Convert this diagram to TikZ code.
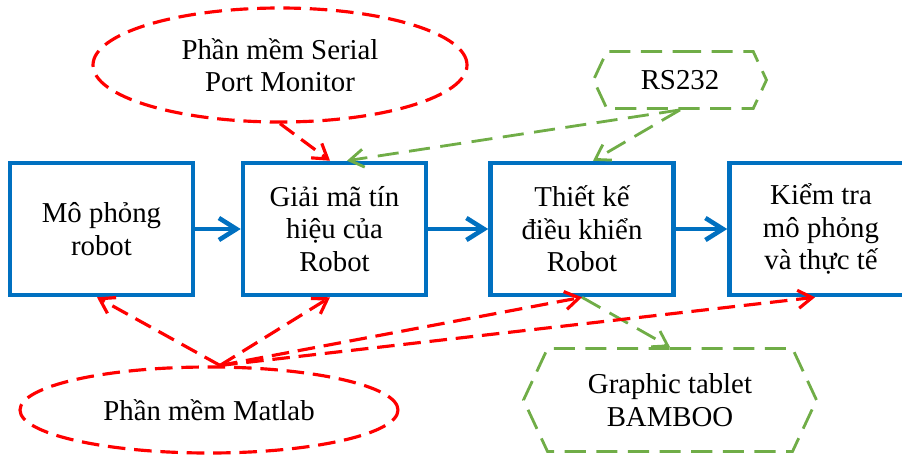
\documentclass[tikz,border=0pt]{standalone}
\usepackage{fontspec}
\setmainfont{Liberation Serif}
\usetikzlibrary{shapes.geometric,shapes.symbols,arrows.meta,calc}
\definecolor{boxblue}{RGB}{0,112,192}
\definecolor{hwgreen}{RGB}{112,173,71}

\begin{document}
\begin{tikzpicture}[every node/.style={font=\fontsize{16.4}{18.5}\selectfont, align=center, inner sep=0pt},
  box/.style={draw=boxblue, line width=2.6pt, minimum width=3.66cm, minimum height=2.64cm},
  soft/.style={ellipse, draw=red, line width=1.8pt, dash pattern=on 10pt off 5pt},
  hw/.style={signal, signal to=west and east, signal pointer angle=130, draw=hwgreen, line width=1.6pt, dash pattern=on 12pt off 6pt},
  flow/.style={boxblue, line width=2.6pt, -{Straight Barb[length=3.5mm,width=4.4mm]}},
  redlink/.style={red, line width=1.8pt, dash pattern=on 10pt off 5pt, -{Straight Barb[length=2.8mm,width=3.6mm]}},
  greenlink/.style={hwgreen, line width=1.6pt, dash pattern=on 12pt off 6pt, -{Straight Barb[length=2.8mm,width=3.6mm]}}]
\useasboundingbox (0,0) rectangle (18.04,-9.08);

\node[box] (mophong) at (2.03,-4.58) {Mô phỏng\\robot};
\node[box] (giaima) at (6.69,-4.58) {Giải mã tín\\hiệu của\\Robot};
\node[box] (thietke) at (11.64,-4.58) {Thiết kế\\điều khiển\\Robot};
\node[box] (kiemtra) at (16.42,-4.58) {Kiểm tra\\mô phỏng\\và thực tế};

\node[soft, minimum width=7.48cm, minimum height=2.28cm] (serial) at (5.6,-1.3) {Phần mềm Serial\\Port Monitor};
\node[soft, minimum width=7.56cm, minimum height=1.72cm] (matlab) at (4.18,-8.2) {Phần mềm Matlab};
\node[hw, minimum width=3.46cm, minimum height=1.14cm] (rs) at (13.6,-1.6) {RS232};
\node[hw, minimum width=5.86cm, minimum height=2.06cm] (tablet) at (13.4,-8.0) {Graphic tablet\\BAMBOO};
\coordinate (mtop) at ($(matlab.north)+(0.22,0)$);

\draw[flow] (mophong) -- (giaima);
\draw[flow] (giaima) -- (thietke);
\draw[flow] (thietke) -- (kiemtra);

\draw[redlink] (serial.south) -- ($(giaima.north)+(-0.09,0)$);
\draw[greenlink] (rs.south) -- ($(giaima.north)+(0.25,0)$);
\draw[greenlink] (rs.south) -- ($(thietke.north)+(0.22,0)$);
\draw[greenlink] (thietke.south) -- (tablet.north);

\draw[redlink] (mtop) -- ($(mophong.south)+(-0.09,0)$);
\draw[redlink] (mtop) -- ($(giaima.south)+(-0.09,0)$);
\draw[redlink] (mtop) -- (thietke.south);
\draw[redlink] (mtop) -- ($(kiemtra.south)+(-0.12,0)$);
\end{tikzpicture}
\end{document}
